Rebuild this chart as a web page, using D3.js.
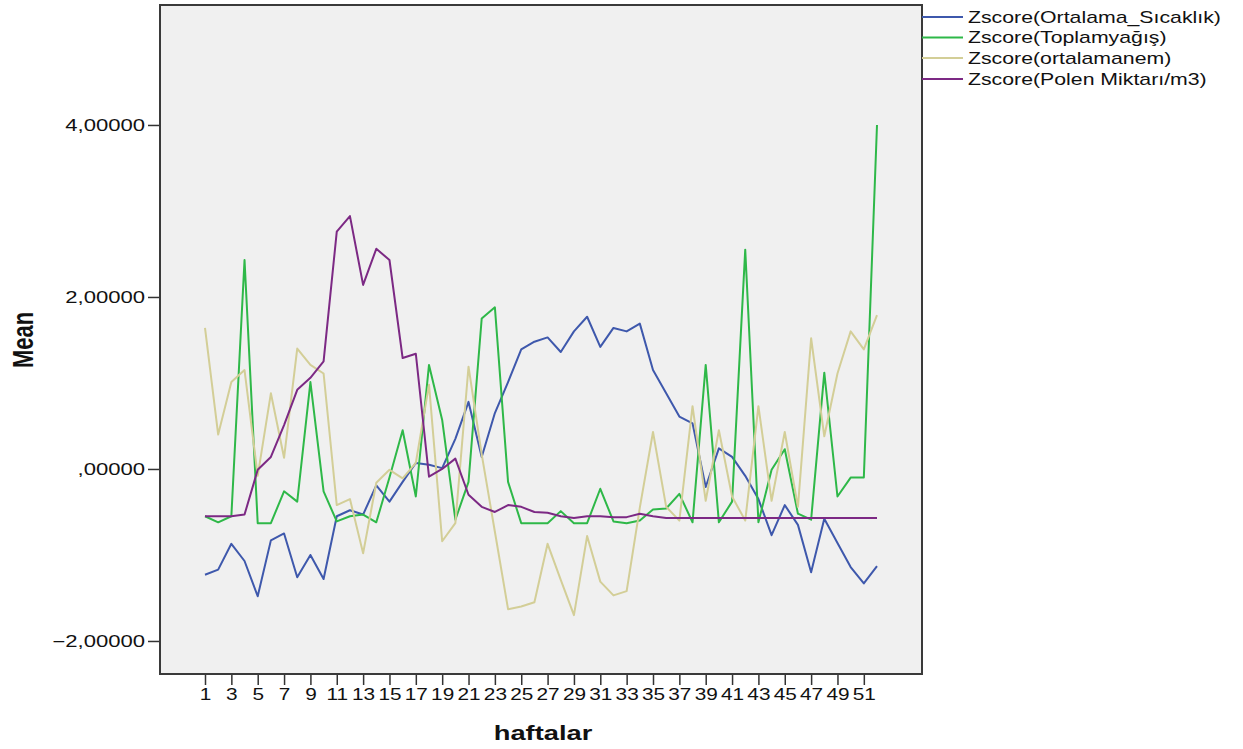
<!DOCTYPE html>
<html>
<head>
<meta charset="utf-8">
<script src="https://cdn.jsdelivr.net/npm/d3@7/dist/d3.min.js"></script>
<style>
  html, body { margin: 0; padding: 0; background: #ffffff; }
  svg { display: block; }
  text { font-family: "Liberation Sans", Arial, sans-serif; fill: #111; }
</style>
</head>
<body>
<svg id="chart" width="1243" height="749"></svg>
<script>
// ---- Data ----
const weeks = [1,2,3,4,5,6,7,8,9,10,11,12,13,14,15,16,17,18,19,20,21,22,23,24,25,26,
               27,28,29,30,31,32,33,34,35,36,37,38,39,40,41,42,43,44,45,46,47,48,49,50,51,52];
const xTickValues = [1,3,5,7,9,11,13,15,17,19,21,23,25,27,29,31,33,35,37,39,41,43,45,47,49,51];
const yTickValues = [-2, 0, 2, 4];
const seriesNames = ["Zscore(Ortalama_Sıcaklık)", "Zscore(Toplamyağış)", "Zscore(ortalamanem)", "Zscore(Polen Miktarı/m3)"];
const sicaklik = [-1.23,-1.17,-0.87,-1.07,-1.48,-0.83,-0.75,-1.26,-1.00,-1.28,-0.55,-0.48,-0.53,-0.19,-0.38,-0.15,
                  0.07,0.05,0.01,0.35,0.78,0.14,0.65,1.01,1.39,1.48,1.53,1.36,1.60,1.77,1.42,1.64,1.60,1.69,
                  1.15,0.88,0.61,0.53,-0.21,0.24,0.14,-0.08,-0.35,-0.77,-0.42,-0.65,-1.20,-0.58,-0.86,-1.14,-1.33,-1.13];
const yagis = [-0.55,-0.62,-0.55,2.43,-0.63,-0.63,-0.26,-0.38,1.01,-0.26,-0.61,-0.55,-0.53,-0.62,-0.10,0.45,
               -0.32,1.21,0.57,-0.59,-0.15,1.75,1.88,-0.15,-0.63,-0.63,-0.63,-0.49,-0.63,-0.63,-0.23,-0.61,-0.63,-0.60,
               -0.47,-0.46,-0.29,-0.62,1.21,-0.62,-0.38,2.55,-0.62,-0.01,0.23,-0.52,-0.59,1.12,-0.32,-0.10,-0.10,4.00];
const nem = [1.64,0.40,1.01,1.15,-0.08,0.88,0.13,1.40,1.21,1.11,-0.42,-0.35,-0.98,-0.16,-0.01,-0.11,
             0.07,0.98,-0.84,-0.63,1.19,0.17,-0.73,-1.63,-1.60,-1.55,-0.87,-1.29,-1.70,-0.78,-1.31,-1.47,-1.42,-0.45,
             0.43,-0.44,-0.60,0.73,-0.37,0.45,-0.32,-0.60,0.73,-0.37,0.43,-0.44,1.52,0.38,1.11,1.60,1.39,1.79];
const polen = [-0.55,-0.55,-0.55,-0.53,-0.01,0.14,0.51,0.92,1.06,1.25,2.76,2.94,2.14,2.56,2.43,1.29,
               1.34,-0.09,0.00,0.12,-0.30,-0.44,-0.50,-0.42,-0.44,-0.50,-0.51,-0.55,-0.57,-0.55,-0.55,-0.56,-0.56,-0.52,
               -0.55,-0.57,-0.57,-0.57,-0.57,-0.57,-0.57,-0.57,-0.57,-0.57,-0.57,-0.57,-0.57,-0.57,-0.57,-0.57,-0.57,-0.57];
const seriesValues = [sicaklik, yagis, nem, polen];
const colors = ["#3E58AC", "#2EB848", "#D3CE97", "#7C2984"];

// ---- Layout ----
const svg = d3.select("#chart");
const plot = { left: 160, top: 5, right: 922, bottom: 674 };
const W = plot.right - plot.left, H = plot.bottom - plot.top;
const STRETCH = 1.38;

const x = d3.scaleLinear().domain([1, 52]).range([45, 717]);
const y = d3.scaleLinear().domain([-2.384, 5.395]).range([H, 0]);

const g = svg.append("g").attr("transform", `translate(${plot.left},${plot.top})`);

g.append("rect").attr("x", 0).attr("y", 0).attr("width", W).attr("height", H)
  .attr("fill", "#f0f0f0");

function fmt(v) {
  let s = d3.format(".5f")(v).replace(".", ",");
  if (s.startsWith("0,")) s = s.slice(1);
  return s;
}

function stretchText(sel, k) {
  sel.each(function () {
    const t = d3.select(this);
    const tx = +t.attr("x") || 0, ty = +t.attr("y") || 0;
    t.attr("x", 0).attr("y", 0).attr("transform", `translate(${tx},${ty}) scale(${k},1)`);
  });
}

// Y axis
const yAxis = g.append("g")
  .call(d3.axisLeft(y).tickValues(yTickValues).tickFormat(fmt).tickSize(12).tickPadding(3).tickSizeOuter(0));
yAxis.select(".domain").remove();
yAxis.selectAll("line").attr("stroke", "#333").attr("stroke-width", 1.5);
yAxis.selectAll("text").attr("font-size", 16).attr("fill", "#222")
  .style("font-family", "'Liberation Sans', Arial, sans-serif");
stretchText(yAxis.selectAll("text"), STRETCH);

// X axis
const xAxis = g.append("g").attr("transform", `translate(0,${H})`)
  .call(d3.axisBottom(x).tickValues(xTickValues).tickFormat(d3.format("d")).tickSize(11).tickPadding(4).tickSizeOuter(0));
xAxis.select(".domain").remove();
xAxis.selectAll("line").attr("stroke", "#333").attr("stroke-width", 1.5);
xAxis.selectAll("text").attr("font-size", 16).attr("fill", "#222")
  .style("font-family", "'Liberation Sans', Arial, sans-serif");
stretchText(xAxis.selectAll("text"), 1.3);

// Lines
const line = d3.line().x((d, i) => x(weeks[i])).y(d => y(d));
seriesValues.forEach((vals, i) => {
  g.append("path").datum(vals)
    .attr("fill", "none")
    .attr("stroke", colors[i])
    .attr("stroke-width", 2)
    .attr("stroke-linejoin", "round")
    .attr("d", line);
});

// Frame
g.append("rect").attr("x", 0).attr("y", 0).attr("width", W).attr("height", H)
  .attr("fill", "none").attr("stroke", "#3a3a3a").attr("stroke-width", 2);

// Axis titles
svg.append("text")
  .attr("transform", `translate(${543},${740}) scale(1.3,1)`)
  .attr("text-anchor", "middle")
  .attr("font-size", 21).attr("font-weight", "bold")
  .text("haftalar");

svg.append("text")
  .attr("transform", `translate(${33},${340}) scale(1.3,1) rotate(-90)`)
  .attr("text-anchor", "middle")
  .attr("font-size", 22).attr("font-weight", "bold")
  .text("Mean");

// Legend
const legY = [17, 37.5, 58, 79];
const leg = svg.append("g");
seriesNames.forEach((name, i) => {
  leg.append("line")
    .attr("x1", 922).attr("x2", 963).attr("y1", legY[i]).attr("y2", legY[i])
    .attr("stroke", colors[i]).attr("stroke-width", 2);
  const t = leg.append("text")
    .attr("x", 968).attr("y", legY[i]).attr("dy", "0.36em")
    .attr("font-size", 16).attr("fill", "#222")
    .text(name);
  stretchText(t, 1.33);
});
</script>
</body>
</html>
